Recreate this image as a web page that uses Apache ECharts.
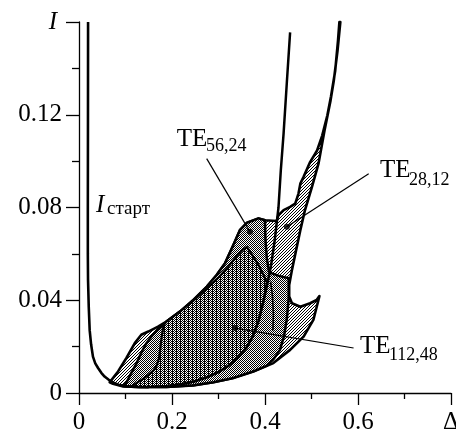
<!DOCTYPE html>
<html>
<head>
<meta charset="utf-8">
<script src="https://cdn.jsdelivr.net/npm/echarts@6/dist/echarts.min.js"></script>
<style>
html,body{margin:0;padding:0;background:#fff}
#chart{width:456px;height:438px}
</style>
</head>
<body>
<div id="chart"></div>
<script>
// tick values
var xTicks = [0, 0.2, 0.4, 0.6, 0.8];
var yTicks = [0, 0.04, 0.08, 0.12, 0.16];

// starting current curve
var iStart = [[0.0195,0.16],[0.0193,0.12],[0.019,0.08],[0.019,0.06],[0.0194,0.049],[0.021,0.037],[0.023,0.027],[0.026,0.021],
  [0.030,0.0157],[0.035,0.0128],[0.041,0.0108],[0.048,0.0087],[0.055,0.0071],[0.064,0.0057],[0.073,0.0046],[0.085,0.0036],
  [0.100,0.0029],[0.120,0.0026],[0.150,0.0025]];

// steep curve crossing the zones
var steepCurve = [[0.454,0.1555],[0.447,0.134],[0.440,0.112],[0.434,0.096],[0.429,0.080],[0.421,0.066],[0.413,0.055],
  [0.405,0.047],[0.396,0.039],[0.386,0.031],[0.374,0.0245],[0.360,0.0195],[0.343,0.0155],[0.322,0.0118],[0.300,0.0090],
  [0.275,0.0068],[0.250,0.0051],[0.220,0.0038],[0.190,0.0030],[0.160,0.0027]];

// small double line inside the lower zone
var innerLine = [[0.412,0.048],[0.416,0.042],[0.418,0.034],[0.417,0.027]];

// TE28,12 zone (hatched)
var zone28 = [[0.066,0.0046],[0.084,0.0093],[0.102,0.0151],[0.120,0.0215],[0.134,0.0251],[0.149,0.0265],[0.170,0.0286],
  [0.188,0.0308],[0.217,0.0351],[0.246,0.0401],[0.275,0.0459],[0.296,0.0509],[0.314,0.0559],[0.332,0.0638],[0.346,0.0702],
  [0.361,0.0734],[0.386,0.0753],[0.400,0.0745],[0.425,0.0742],[0.429,0.0767],[0.440,0.0789],[0.454,0.0803],[0.465,0.0817],
  [0.472,0.086],[0.476,0.0903],[0.483,0.0932],[0.497,0.0996],[0.512,0.1046],[0.523,0.111],[0.534,0.1197],[0.542,0.128],
  [0.551,0.139],[0.557,0.152],[0.560,0.16],[0.562,0.16],[0.556,0.1477],[0.548,0.1348],[0.541,0.1262],[0.528,0.1132],
  [0.515,0.0989],[0.501,0.0889],[0.486,0.0789],[0.476,0.0702],[0.467,0.0617],[0.458,0.0531],[0.452,0.0466],[0.452,0.0416],
  [0.458,0.0387],[0.476,0.0372],[0.497,0.0387],[0.511,0.0401],[0.517,0.0418],[0.504,0.0315],[0.483,0.0243],[0.454,0.0186],
  [0.418,0.0129],[0.375,0.0093],[0.332,0.0065],[0.289,0.0046],[0.246,0.0033],[0.188,0.0026],[0.131,0.0026],[0.095,0.0028],
  [0.073,0.0040]];

// TE56,24 zone
var zone56 = [[0.095,0.0030],[0.102,0.0045],[0.112,0.0085],[0.124,0.0129],[0.135,0.0178],[0.145,0.0215],[0.158,0.0250],
  [0.170,0.0274],[0.181,0.0292],[0.188,0.0308],[0.217,0.0351],[0.246,0.0401],[0.275,0.0459],[0.296,0.0509],[0.314,0.0559],
  [0.332,0.0638],[0.346,0.0702],[0.361,0.0734],[0.386,0.0753],[0.400,0.0745],[0.401,0.066],[0.404,0.058],[0.409,0.052],
  [0.430,0.0505],[0.451,0.0495],[0.451,0.041],[0.447,0.032],[0.441,0.0245],[0.432,0.0185],[0.418,0.0145],[0.404,0.0118],
  [0.375,0.0093],[0.332,0.0065],[0.289,0.0046],[0.246,0.0033],[0.188,0.0026],[0.131,0.0026]];

// TE112,48 zone
var zone112 = [[0.112,0.0027],[0.125,0.0045],[0.137,0.0060],[0.148,0.0076],[0.160,0.0097],[0.167,0.0118],[0.172,0.015],
  [0.175,0.0195],[0.178,0.0245],[0.182,0.0292],[0.188,0.0308],[0.217,0.0351],[0.246,0.0398],[0.275,0.0450],[0.300,0.0498],
  [0.320,0.0542],[0.338,0.0588],[0.352,0.0617],[0.361,0.0630],[0.372,0.0597],[0.385,0.0556],[0.396,0.0512],[0.404,0.0478],
  [0.400,0.043],[0.396,0.039],[0.386,0.031],[0.374,0.0245],[0.360,0.0195],[0.343,0.0155],[0.322,0.0118],[0.300,0.0090],
  [0.275,0.0068],[0.250,0.0051],[0.220,0.0038],[0.190,0.0030],[0.160,0.0027],[0.135,0.0026]];

// leader lines and dots of the mode labels
var lead56 = [[0.2746,0.1011],[0.3677,0.0695]];
var lead28 = [[0.623,0.0946],[0.447,0.0717]];
var lead112 = [[0.5905,0.0194],[0.3356,0.028]];
var labelDots = [[0.3677,0.0695],[0.447,0.0717],[0.3356,0.028]];

var FONT = '"Liberation Serif","Times New Roman",serif';

function makePattern(size, draw) {
  var c = document.createElement('canvas');
  c.width = size; c.height = size;
  var ctx = c.getContext('2d');
  ctx.fillStyle = '#fff';
  ctx.fillRect(0, 0, size, size);
  ctx.fillStyle = '#000';
  for (var y = 0; y < size; y++) {
    for (var x = 0; x < size; x++) {
      if (draw(x, y)) ctx.fillRect(x, y, 1, 1);
    }
  }
  return {image: c, repeat: 'repeat'};
}

var hatch = makePattern(3, function(x, y){ return (x + y) % 3 == 2; });
var crossMid = makePattern(2, function(x, y){ return (x + y) % 2 == 0; });
var crossDense = makePattern(4, function(x, y){ return (x + y) % 2 == 0 || x == 0; });

function zoneSeries(pts, fill, lw, z) {
  return {
    type: 'custom',
    coordinateSystem: 'cartesian2d',
    data: pts,
    encode: {x: 0, y: 1},
    silent: true,
    z: z,
    renderItem: function(params, api) {
      if (params.dataIndex !== 0) return null;
      var points = pts.map(function(p){ return api.coord(p); });
      return {
        type: 'polygon',
        shape: {points: points},
        style: {fill: fill, stroke: '#000', lineWidth: lw, lineJoin: 'round'}
      };
    }
  };
}

function curve(pts, w, z) {
  return {
    type: 'line', data: pts, showSymbol: false, symbol: 'none', z: z, silent: true,
    lineStyle: {color: '#000', width: w}
  };
}

var chart = echarts.init(document.getElementById('chart'), null, {renderer: 'canvas'});

chart.setOption({
  animation: false,
  backgroundColor: '#fff',
  grid: {left: 79, right: 5, top: 22, bottom: 45, containLabel: false, outerBoundsMode: 'none'},
  xAxis: {
    type: 'value', min: 0, max: 0.8, interval: 0.2,
    axisLine: {lineStyle: {color: '#000', width: 1.3}},
    axisTick: {length: 12, lineStyle: {color: '#000', width: 1.3}},
    minorTick: {show: true, splitNumber: 2, length: 6, lineStyle: {color: '#000', width: 1.3}},
    splitLine: {show: false},
    axisLabel: {
      margin: 17, color: '#000', fontFamily: FONT, fontSize: 25, showMaxLabel: true, showMinLabel: true,
      formatter: function(v){
        if (Math.abs(v - xTicks[4]) < 1e-9) return 'Δ';
        if (v === 0) return '0';
        return v.toFixed(1);
      }
    }
  },
  yAxis: {
    type: 'value', min: 0, max: 0.16, interval: 0.04,
    axisLine: {lineStyle: {color: '#000', width: 1.3}},
    axisTick: {length: 13, lineStyle: {color: '#000', width: 1.3}},
    minorTick: {show: true, splitNumber: 2, length: 7, lineStyle: {color: '#000', width: 1.3}},
    splitLine: {show: false},
    axisLabel: {
      margin: 17, color: '#000', fontFamily: FONT, fontSize: 25, showMaxLabel: true, showMinLabel: true,
      formatter: function(v){
        if (Math.abs(v - yTicks[4]) < 1e-9) return '{i|I}';
        if (v === 0) return '0';
        return v.toFixed(2);
      },
      rich: {i: {fontFamily: FONT, fontSize: 25, fontStyle: 'italic', color: '#000', padding: [0, 5, 0, 0]}}
    }
  },
  series: [
    zoneSeries(zone28, hatch, 2.6, 1),
    zoneSeries(zone56, crossMid, 2.5, 2),
    zoneSeries(zone112, crossDense, 2.2, 3),
    curve(iStart, 2.6, 5),
    curve(steepCurve, 2.5, 5),
    curve(innerLine, 1.6, 5),
    curve(lead56, 1.2, 6),
    curve(lead28, 1.2, 6),
    curve(lead112, 1.2, 6),
    {type: 'scatter', data: labelDots, symbolSize: 6, itemStyle: {color: '#000'}, z: 7, silent: true}
  ],
  graphic: [
    {type: 'text', x: 176.7, y: 139.5, style: {text: 'TE', font: '25px ' + FONT, fill: '#000', align: 'left', verticalAlign: 'middle'}},
    {type: 'text', x: 206, y: 146.5, style: {text: '56,24', font: '18px ' + FONT, fill: '#000', align: 'left', verticalAlign: 'middle'}},
    {type: 'text', x: 380, y: 170, style: {text: 'TE', font: '25px ' + FONT, fill: '#000', align: 'left', verticalAlign: 'middle'}},
    {type: 'text', x: 409, y: 180, style: {text: '28,12', font: '18px ' + FONT, fill: '#000', align: 'left', verticalAlign: 'middle'}},
    {type: 'text', x: 360, y: 346, style: {text: 'TE', font: '25px ' + FONT, fill: '#000', align: 'left', verticalAlign: 'middle'}},
    {type: 'text', x: 389, y: 355, style: {text: '112,48', font: '18px ' + FONT, fill: '#000', align: 'left', verticalAlign: 'middle'}},
    {type: 'text', x: 96, y: 205, style: {text: 'I', font: 'italic 25px ' + FONT, fill: '#000', align: 'left', verticalAlign: 'middle'}},
    {type: 'text', x: 107, y: 209, style: {text: 'старт', font: '19px ' + FONT, fill: '#000', align: 'left', verticalAlign: 'middle'}}
  ]
});
</script>
</body>
</html>
